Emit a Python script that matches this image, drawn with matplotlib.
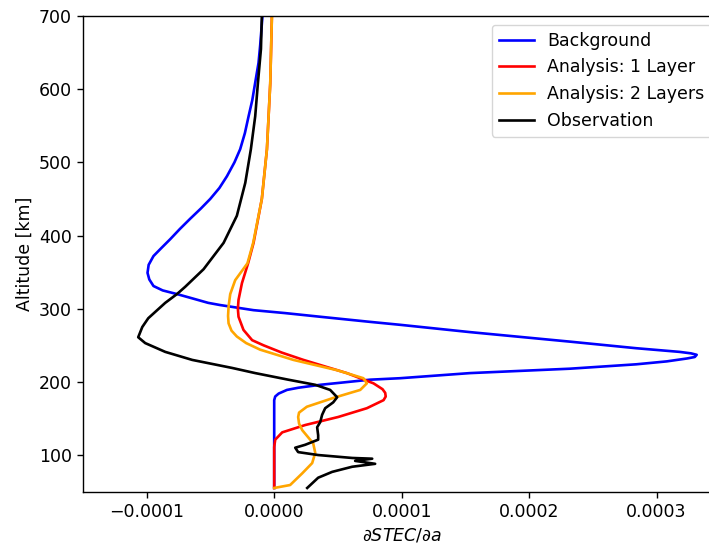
import numpy as np
import matplotlib
matplotlib.use("Agg")
import matplotlib.pyplot as plt

# sensitivity profiles, values in units of 1e-5
SCALE = 1e-5

alt_bg = [700, 660, 636, 609, 585, 563, 540, 518, 500, 481, 465, 450, 437, 423,
          409, 395, 383, 372, 360, 349, 340, 331, 325, 320, 314, 308, 305, 298,
          294, 289, 282, 278, 268, 255, 246, 241, 239, 237, 234, 232, 228, 224,
          218, 212, 205, 203, 199, 196, 192, 189, 184, 180, 175, 55]
val_bg = [-0.92, -1.1, -1.23, -1.49, -1.72, -2.01, -2.3, -2.67, -3.12, -3.71,
          -4.3, -5.02, -5.75, -6.59, -7.4, -8.16, -8.85, -9.47, -9.85, -9.94,
          -9.8, -9.47, -8.75, -7.63, -6.4, -5.18, -4.24, -1.62, 0.86, 3.61,
          7.53, 9.88, 15.37, 23.2, 28.4, 31.8, 32.7, 33.15, 33.0, 32.4, 30.8,
          28.4, 23.2, 15.37, 9.88, 7.53, 5.3, 3.61, 1.9, 1.0, 0.35, 0.08, 0.0,
          0.0]

alt_1l = [700, 608, 518, 450, 390, 362, 335, 312, 300, 289, 271, 257, 250, 240,
          230, 212, 198, 190, 185, 180, 175, 164, 152, 141, 131, 121, 111, 55]
val_1l = [-0.18, -0.31, -0.57, -0.97, -1.62, -2.05, -2.53, -2.80, -2.85, -2.80,
          -2.41, -1.73, -0.84, 0.6, 2.30, 5.70, 7.79, 8.5, 8.71, 8.75, 8.58,
          7.27, 5.02, 2.43, 0.63, 0.08, 0.0, 0.0]

alt_2l = [700, 608, 518, 450, 390, 362, 339, 320, 303, 290, 280, 270, 262, 253,
          244, 230, 216, 205, 198, 189, 178, 166, 158, 152, 143, 134, 116, 103,
          89, 75, 59, 55]
val_2l = [-0.18, -0.31, -0.57, -0.97, -1.65, -2.1, -3.06, -3.45, -3.58, -3.62,
          -3.58, -3.35, -2.93, -2.2, -1.10, 1.51, 4.92, 7.0, 7.27, 6.75, 4.63,
          2.56, 1.95, 1.88, 1.95, 2.20, 3.06, 3.22, 2.98, 2.2, 1.25, 0.0]

alt_obs = [700, 655, 608, 563, 518, 472, 427, 390, 354, 330, 320, 308, 287, 275,
           261, 253, 241, 230, 219, 212, 203, 196, 189, 179, 172, 164, 155, 145,
           138, 127, 121, 114, 110, 104, 100, 96, 95, 92, 88, 84, 77, 69, 55]
val_obs = [-0.97, -1.04, -1.28, -1.49, -1.83, -2.27, -2.93, -3.97, -5.54, -6.98,
           -7.63, -8.55, -9.88, -10.35, -10.67, -10.12, -8.55, -6.43, -3.29,
           -1.49, 1.10, 3.22, 4.39, 4.94, 4.63, 4.0, 3.76, 3.61, 3.37, 3.45, 3.45,
           2.43, 1.65, 1.88, 3.45, 6.12, 7.69, 6.35, 7.92, 6.12, 4.55, 3.45, 2.59]

xticks = [-0.0001, 0.0, 0.0001, 0.0002, 0.0003]
yticks = [100, 200, 300, 400, 500, 600, 700]

plt.rcParams['font.size'] = 12.5

fig = plt.figure(figsize=(7.09, 5.46), dpi=100)
ax = fig.add_axes([0.1171, 0.0996, 0.8988, 0.871])

lw = 1.9
ax.plot(np.array(val_bg) * SCALE, alt_bg, color='blue', lw=lw, label='Background')
ax.plot(np.array(val_1l) * SCALE, alt_1l, color='red', lw=lw, label='Analysis: 1 Layer')
ax.plot(np.array(val_2l) * SCALE, alt_2l, color='orange', lw=lw, label='Analysis: 2 Layers')
ax.plot(np.array(val_obs) * SCALE, alt_obs, color='black', lw=lw, label='Observation')

ax.set_xlim(-0.00015, 0.00035)
ax.set_ylim(50, 700)
ax.set_xticks(xticks)
ax.set_yticks(yticks)
ax.tick_params(length=4.4, width=1.0)
for s in ax.spines.values():
    s.set_linewidth(1.0)

ax.set_xlabel(r'$\partial STEC/\partial a$')
ax.set_ylabel('Altitude [km]')
ax.legend(loc='upper right')

fig.savefig('out.png', dpi=100)
